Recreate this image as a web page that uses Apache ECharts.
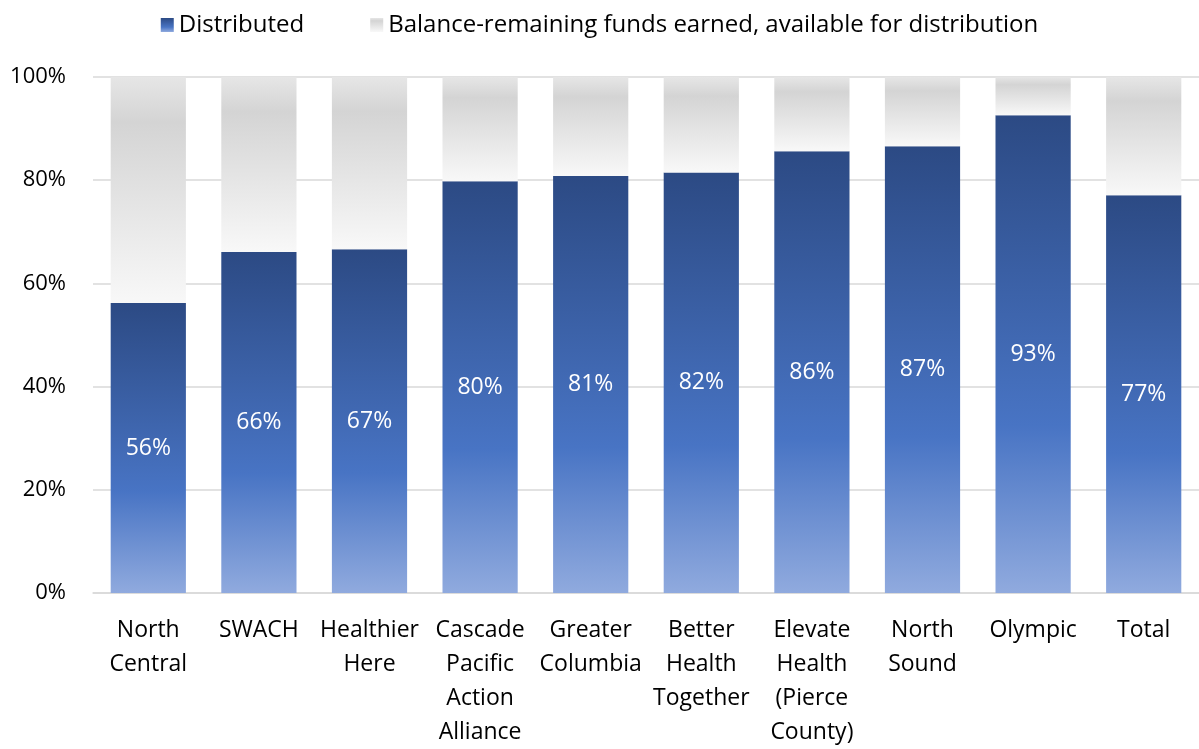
<!DOCTYPE html>
<html>
<head>
<meta charset="utf-8">
<script src="https://cdn.jsdelivr.net/npm/echarts@6/dist/echarts.min.js"></script>
<style>
  html, body { margin: 0; padding: 0; background: #fff; }
  #chart { width: 1199px; height: 749px; }
</style>
</head>
<body>
<div id="chart"></div>
<script>
var categories = ['North\nCentral', 'SWACH', 'Healthier\nHere', 'Cascade\nPacific\nAction\nAlliance',
    'Greater\nColumbia', 'Better\nHealth\nTogether', 'Elevate\nHealth\n(Pierce\nCounty)',
    'North\nSound', 'Olympic', 'Total'];
var distributed = [56.2, 66.1, 66.6, 79.8, 80.8, 81.5, 85.6, 86.6, 92.6, 77.1];
var balance = distributed.map(function (v) { return Math.round((100 - v) * 10) / 10; });

var font = 'Open Sans';
var chart = echarts.init(document.getElementById('chart'));

var blueFill = new echarts.graphic.LinearGradient(0, 0, 0, 1, [
    { offset: 0, color: '#2c4a84' },
    { offset: 0.65, color: '#4874c4' },
    { offset: 1, color: '#90aade' }
]);
var grayFill = new echarts.graphic.LinearGradient(0, 0, 0, 1, [
    { offset: 0, color: '#e6e6e6' },
    { offset: 0.2, color: '#d4d4d4' },
    { offset: 1, color: '#f8f8f8' }
]);

var option = {
    animation: false,
    textStyle: { fontFamily: font },
    legend: {
        top: 8,
        left: 'center',
        itemWidth: 13,
        itemHeight: 14,
        itemGap: 66,
        icon: 'rect',
        textStyle: { fontSize: 24, color: '#000', fontFamily: font },
        data: ['Distributed', 'Balance-remaining funds earned, available for distribution']
    },
    grid: { left: 93, right: 0, top: 77, bottom: 153 },
    xAxis: {
        type: 'category',
        data: categories,
        axisLine: { lineStyle: { color: '#d9d9d9', width: 1.5 } },
        axisTick: { show: false },
        axisLabel: { fontSize: 23, color: '#000', lineHeight: 34, margin: 20, interval: 0 }
    },
    yAxis: {
        type: 'value',
        min: 0,
        max: 100,
        interval: 20,
        axisLine: { show: false },
        axisTick: { show: false },
        splitLine: { lineStyle: { color: '#d9d9d9', width: 1.5 } },
        axisLabel: { fontSize: 22, color: '#000', margin: 27, formatter: '{value}%' }
    },
    series: [
        {
            name: 'Distributed',
            type: 'bar',
            stack: 'all',
            barCategoryGap: '32%',
            data: distributed,
            itemStyle: { color: blueFill },
            label: {
                show: true,
                position: 'inside',
                color: '#fff',
                fontSize: 23,
                formatter: function (p) { return Math.round(p.value) + '%'; }
            }
        },
        {
            name: 'Balance-remaining funds earned, available for distribution',
            type: 'bar',
            stack: 'all',
            data: balance,
            itemStyle: { color: grayFill }
        }
    ]
};

chart.setOption(option);
</script>
</body>
</html>
